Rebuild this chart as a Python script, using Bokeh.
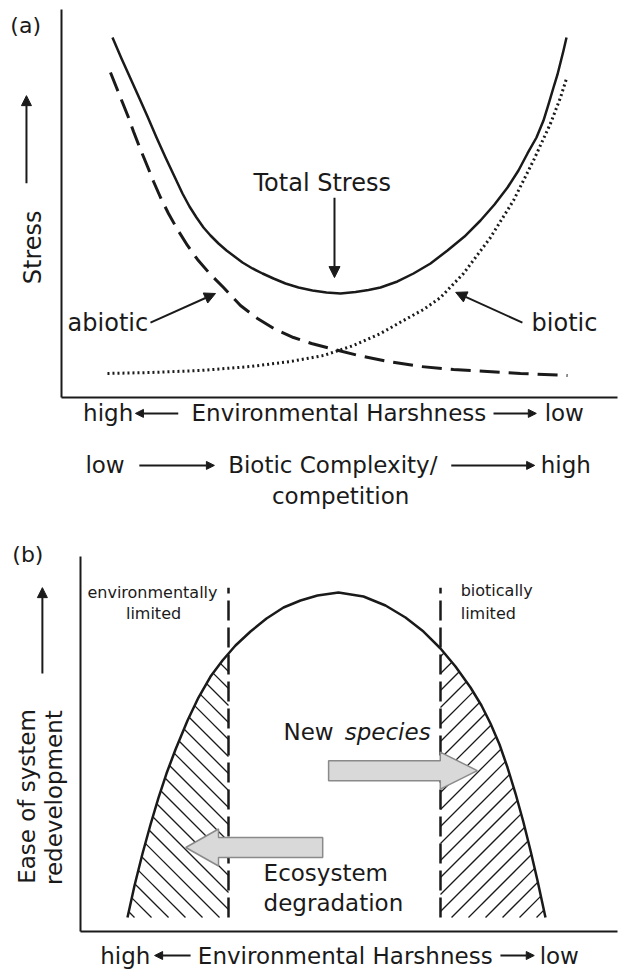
import math
import numpy as np
from bokeh.plotting import figure
from bokeh.layouts import column
from bokeh.models import Range1d, Arrow, NormalHead, ColumnDataSource, FixedTicker
from bokeh.core.properties import value
from bokeh.embed import file_html
from bokeh.resources import INLINE

FONT = "DejaVu Sans"
INK = "#1a1a1a"

# ---------------- Panel (a): stress along the gradient (x 0-100, y 0-100) ----------------
total_x = [9.17, 10.79, 12.41, 14.03, 15.47, 17.09, 18.71, 20.32, 21.76, 23.02, 24.28, 25.54,
           26.80, 28.24, 29.68, 31.12, 32.55, 34.35, 36.15, 38.13, 40.29, 42.63, 45.14, 47.66,
           50.18, 52.88, 55.22, 57.37, 60.43, 63.31, 66.37, 69.42, 72.48, 75.36, 77.88, 80.22,
           82.19, 83.81, 85.43, 86.69, 87.59, 88.49, 89.21, 89.75, 90.29, 90.83]
total_y = [92.78, 87.37, 82.22, 77.06, 72.42, 67.01, 61.86, 56.96, 52.58, 49.23, 46.39, 43.81,
           41.75, 39.69, 37.89, 36.34, 34.79, 33.25, 31.96, 30.67, 29.38, 28.35, 27.58, 27.06,
           26.80, 27.19, 27.71, 28.35, 29.90, 31.96, 34.54, 37.89, 41.49, 45.62, 49.74, 54.12,
           58.51, 62.89, 67.01, 71.39, 75.52, 79.90, 83.25, 86.34, 89.43, 92.78]

abiotic_x = [8.81, 9.89, 10.97, 12.05, 12.95, 14.21, 15.47, 16.55, 17.81, 19.24, 20.86, 22.66,
             24.46, 26.80, 29.14, 32.19, 35.25, 38.49, 41.73, 44.96, 48.38, 53.42, 58.63, 64.57,
             70.50, 76.62, 82.55, 91.01]
abiotic_y = [83.76, 79.90, 76.03, 72.16, 68.56, 63.92, 59.54, 55.67, 51.55, 47.42, 43.30, 39.18,
             35.57, 31.70, 28.35, 23.71, 20.36, 17.53, 15.46, 13.92, 12.63, 10.82, 9.28, 7.99,
             7.22, 6.70, 6.19, 5.67]

biotic_x = [8.27, 16.01, 25.00, 33.99, 41.19, 47.12, 52.52, 57.37, 61.51, 65.11, 68.17, 72.30,
            77.16, 81.29, 84.89, 87.95, 89.75, 90.83]
biotic_y = [6.19, 6.44, 6.96, 7.99, 9.28, 10.82, 13.40, 16.49, 19.85, 22.68, 25.77, 31.96,
            41.24, 50.77, 61.08, 70.62, 77.32, 82.22]

# labels inside panel (a)
a_labels = ["Total Stress", "abiotic", "biotic"]
a_label_x = [46.9, 1.1, 96.4]
a_label_y = [55.4, 19.1, 19.1]
a_label_align = ["center", "left", "right"]
# pointer arrows: (x_start, y_start, x_end, y_end)
a_pointers = [(49.1, 51.5, 49.1, 30.9), (16.0, 19.3, 27.7, 26.8), (82.9, 19.3, 70.9, 27.1)]

# caption rows under panel (a)
a_row1_y = -4.1
a_row2_y = -17.5
a_row3_y = -25.3

# ---------------- Panel (b): ease of redevelopment ----------------
arch_x = [8.75, 10.06, 11.55, 13.04, 14.53, 16.01, 17.69, 19.93, 21.97, 24.21, 26.44, 28.86,
          31.66, 34.64, 37.80, 40.97, 44.13, 48.04, 52.70, 56.80, 60.52, 63.87, 67.04, 69.83,
          72.63, 74.67, 76.35, 78.03, 79.52, 81.01, 82.50, 83.80, 85.10, 86.59]
arch_y = [3.73, 12.27, 20.80, 28.53, 35.73, 42.13, 48.53, 56.27, 62.40, 68.00, 72.27, 76.27,
          80.00, 83.47, 86.40, 88.27, 89.60, 90.40, 89.33, 86.93, 83.73, 80.00, 75.47, 70.67,
          65.07, 60.27, 55.47, 49.87, 43.73, 36.80, 29.07, 21.60, 13.60, 3.73]

base_y = 3.73
limit_x = [27.56, 67.04]
limit_top = 91.7

# block arrows: New species (right), Ecosystem degradation (left)
ga_tail = [46.2, 45.1]
ga_base = [67.0, 25.7]
ga_tip = [73.9, 19.6]
ga_y = [42.9, 22.4]
ga_body = 2.67
ga_head = 4.93

b_row_y = -6.4

W = 620
HA = 543
HB = 426
XA = (-10.97, 100.54)
YA = (-37.63, 102.32)
XB = (-14.90, 100.56)
YB = (-10.13, 103.47)


def make_fig(h, xr, yr):
    p = figure(width=W, height=h, x_range=Range1d(*xr), y_range=Range1d(*yr),
               output_backend="svg", toolbar_location=None, min_border=0,
               outline_line_color=None, background_fill_color="white",
               border_fill_color="white")
    p.grid.visible = False
    for ax in (p.xaxis, p.yaxis):
        ax.ticker = FixedTicker(ticks=[])
        ax.major_tick_line_color = None
        ax.minor_tick_line_color = None
        ax.major_label_text_font_size = "0px"
        ax.axis_line_width = 2
        ax.axis_line_color = INK
        ax.bounds = (0, 100)
        ax.fixed_location = 0
    return p


def txt(p, xs, ys, texts, size, align="left", angle=0.0, style="normal"):
    src = ColumnDataSource(dict(x=xs, y=ys, text=texts))
    p.text(x="x", y="y", text="text", source=src, text_font=value(FONT),
           text_font_size=size, text_align=align, text_baseline="middle",
           text_color=INK, angle=angle, text_font_style=style)


def arrow(p, x0, y0, x1, y1, size=10, width=2):
    p.add_layout(Arrow(end=NormalHead(size=size, fill_color=INK, line_color=INK),
                       x_start=x0, y_start=y0, x_end=x1, y_end=y1,
                       line_width=width, line_color=INK))


def hatch_lines(x_lo, x_hi, top_x, top_y, sign, spacing, sx, sy):
    """Diagonal hatch segments clipped to the zone below the arch, above the base."""
    xs = np.linspace(x_lo, x_hi, 3000)
    top = np.interp(xs, top_x, top_y)
    X = xs * sx
    y_hi = max(top_y) * sy
    if sign < 0:
        c_lo, c_hi = X.min() + base_y * sy, X.max() + y_hi
    else:
        c_lo, c_hi = base_y * sy - X.max(), y_hi - X.min()
    out_x, out_y = [], []
    for c in np.arange(math.floor(c_lo / spacing) * spacing, c_hi + spacing, spacing):
        yy = (sign * X + c) / sy
        inside = np.where((yy >= base_y) & (yy <= top))[0]
        if len(inside) < 2:
            continue
        i0, i1 = inside[0], inside[-1]
        out_x.append([xs[i0], xs[i1]])
        out_y.append([yy[i0], yy[i1]])
    return out_x, out_y


# ---------------- figure (a) ----------------
pa = make_fig(HA, XA, YA)
pa.line(total_x, total_y, line_color=INK, line_width=2.5, line_join="round")
pa.line(abiotic_x, abiotic_y, line_color=INK, line_width=3, line_dash="20 9")
pa.line(biotic_x, biotic_y, line_color=INK, line_width=3, line_dash="2 3")

for lab, lx, ly, al in zip(a_labels, a_label_x, a_label_y, a_label_align):
    txt(pa, [lx], [ly], [lab], "24px", align=al)
for (x0, y0, x1, y1) in a_pointers:
    arrow(pa, x0, y0, x1, y1, size=11)

txt(pa, [-9.2], [95.9], ["(a)"], "22px")
txt(pa, [-5.2], [38.7], ["Stress"], "24px", align="center", angle=math.pi / 2)
arrow(pa, -6.3, 55.2, -6.3, 77.8, size=10)

txt(pa, [12.9], [a_row1_y], ["high"], "23px", align="right")
txt(pa, [49.9], [a_row1_y], ["Environmental Harshness"], "23px", align="center")
txt(pa, [86.9], [a_row1_y], ["low"], "23px")
arrow(pa, 21.0, a_row1_y, 13.3, a_row1_y, size=8)
arrow(pa, 77.7, a_row1_y, 85.4, a_row1_y, size=8)

txt(pa, [4.3], [a_row2_y], ["low"], "23px")
txt(pa, [48.8], [a_row2_y], ["Biotic Complexity/"], "23px", align="center")
txt(pa, [86.2], [a_row2_y], ["high"], "23px")
arrow(pa, 14.0, a_row2_y, 27.5, a_row2_y, size=8)
arrow(pa, 70.1, a_row2_y, 85.1, a_row2_y, size=8)
txt(pa, [50.2], [a_row3_y], ["competition"], "23px", align="center")

# ---------------- figure (b) ----------------
pb = make_fig(HB, XB, YB)
sx = W / (XB[1] - XB[0])
sy = HB / (YB[1] - YB[0])
peak = int(np.argmax(arch_y))
left_x, left_y = arch_x[:peak + 1], arch_y[:peak + 1]
right_x, right_y = arch_x[peak:], arch_y[peak:]
hx, hy = hatch_lines(arch_x[0], limit_x[0], left_x, left_y, -1, 17, sx, sy)
pb.multi_line(hx, hy, line_color=INK, line_width=1.3)
hx, hy = hatch_lines(limit_x[1], arch_x[-1], right_x, right_y, 1, 17, sx, sy)
pb.multi_line(hx, hy, line_color=INK, line_width=1.3)

for lx in limit_x:
    pb.line([lx, lx], [base_y, limit_top], line_color=INK, line_width=2.5,
            line_dash="20 7")
pb.line(arch_x, arch_y, line_color=INK, line_width=2.5, line_join="round")

for t, b, tp, yc in zip(ga_tail, ga_base, ga_tip, ga_y):
    xs = [t, b, b, tp, b, b, t]
    ys = [yc - ga_body, yc - ga_body, yc - ga_head, yc, yc + ga_head, yc + ga_body, yc + ga_body]
    pb.patch(xs, ys, fill_color="#d9d9d9", line_color="#8a8a8a", line_width=1.5)

txt(pb, [-12.7], [100.5], ["(b)"], "22px")
txt(pb, [-9.9, -5.0], [36.0, 35.7], ["Ease of system", "redevelopment"], "23px",
    align="center", angle=math.pi / 2)
arrow(pb, -7.1, 68.8, -7.1, 91.7, size=10)

txt(pb, [13.4, 13.6], [90.4, 84.8], ["environmentally", "limited"], "16px", align="center")
txt(pb, [70.8, 70.8], [90.9, 84.8], ["biotically", "limited"], "16px")
txt(pb, [37.8], [53.1], ["New"], "23px")
txt(pb, [65.2], [53.1], ["species"], "23px", align="right", style="italic")
txt(pb, [34.1, 34.1], [15.5, 7.5], ["Ecosystem", "degradation"], "23px")

txt(pb, [13.0], [b_row_y], ["high"], "23px", align="right")
txt(pb, [49.3], [b_row_y], ["Environmental Harshness"], "23px", align="center")
txt(pb, [85.5], [b_row_y], ["low"], "23px")
arrow(pb, 20.5, b_row_y, 13.8, b_row_y, size=8)
arrow(pb, 78.2, b_row_y, 84.5, b_row_y, size=8)

layout = column(pa, pb, spacing=0)
open("out.html", "w").write(file_html(layout, INLINE))
